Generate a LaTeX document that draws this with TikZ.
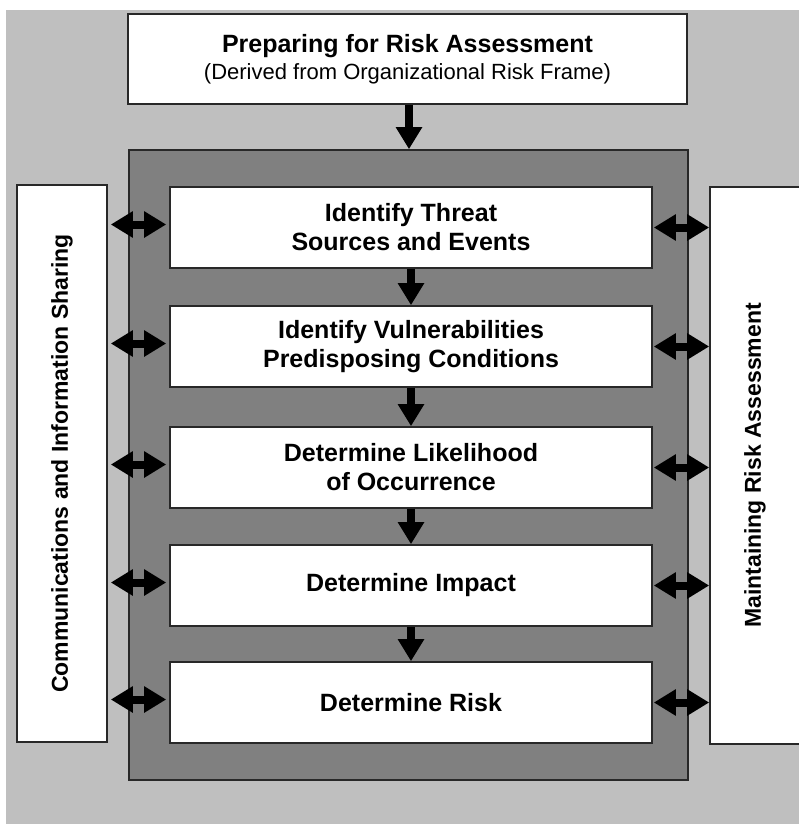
\documentclass[tikz,border=0pt]{standalone}
\usepackage{fontspec}
\setmainfont{Liberation Sans}
\usetikzlibrary{arrows.meta}
\definecolor{bglight}{RGB}{191,191,191}
\definecolor{bgdark}{RGB}{128,128,128}
\definecolor{edge}{RGB}{40,40,40}
\begin{document}
\begin{tikzpicture}[x=1pt,y=-1pt,
  box/.style={draw=edge, line width=1.6pt, fill=white, inner sep=0pt, align=center},
  stepbox/.style={box, minimum width=482pt, minimum height=81pt,
    font=\fontsize{25}{29}\selectfont\bfseries},
  sidebox/.style={box, rotate=90, minimum width=557pt, minimum height=90pt,
    font=\fontsize{23}{27}\selectfont\bfseries},
  bigarrow/.style={line width=8pt, -{Triangle[length=22pt,width=25pt]}},
  dblarrow/.style={line width=8pt, {Triangle[length=22pt,width=25pt]}-{Triangle[length=22pt,width=25pt]}}
]
\useasboundingbox (0,0) rectangle (798,824);
\fill[bglight] (6,10) rectangle (802,828);

\node[box, minimum width=559pt, minimum height=90pt] (top) at (407.5,59)
  {{\fontsize{25}{29}\selectfont\bfseries Preparing for Risk Assessment}\\[5pt]
   {\fontsize{22}{26}\selectfont (Derived from Organizational Risk Frame)}};

\node[draw=edge, line width=1.6pt, fill=bgdark, minimum width=559pt, minimum height=630pt, inner sep=0pt] (dark) at (408.5,465) {};

\node[sidebox] (left) at (62,463.5) {Communications and Information Sharing};
\node[sidebox] (right) at (755,465.5) {Maintaining Risk Assessment};

\node[stepbox] (s1) at (411,227.5) {Identify Threat\\Sources and Events};
\node[stepbox] (s2) at (411,346.5) {Identify Vulnerabilities\\Predisposing Conditions};
\node[stepbox] (s3) at (411,467.5) {Determine Likelihood\\of Occurrence};
\node[stepbox] (s4) at (411,585.5) {Determine Impact};
\node[stepbox] (s5) at (411,702.5) {Determine Risk};

\draw[bigarrow] ([xshift=1.5pt]top.south) -- ([xshift=1.5pt]top.south |- dark.north);
\foreach \a/\b in {s1/s2,s2/s3,s3/s4,s4/s5}{
  \draw[bigarrow] (\a.south) -- (\b.north);
}
\foreach \s in {s1,s2,s3,s4,s5}{
  \draw[dblarrow] ([xshift=3pt,yshift=3pt]\s.west -| left.south) -- ([xshift=-3pt,yshift=3pt]\s.west);
  \draw[dblarrow] ([xshift=1pt]\s.east) -- (\s.east -| right.north);
}
\end{tikzpicture}
\end{document}
